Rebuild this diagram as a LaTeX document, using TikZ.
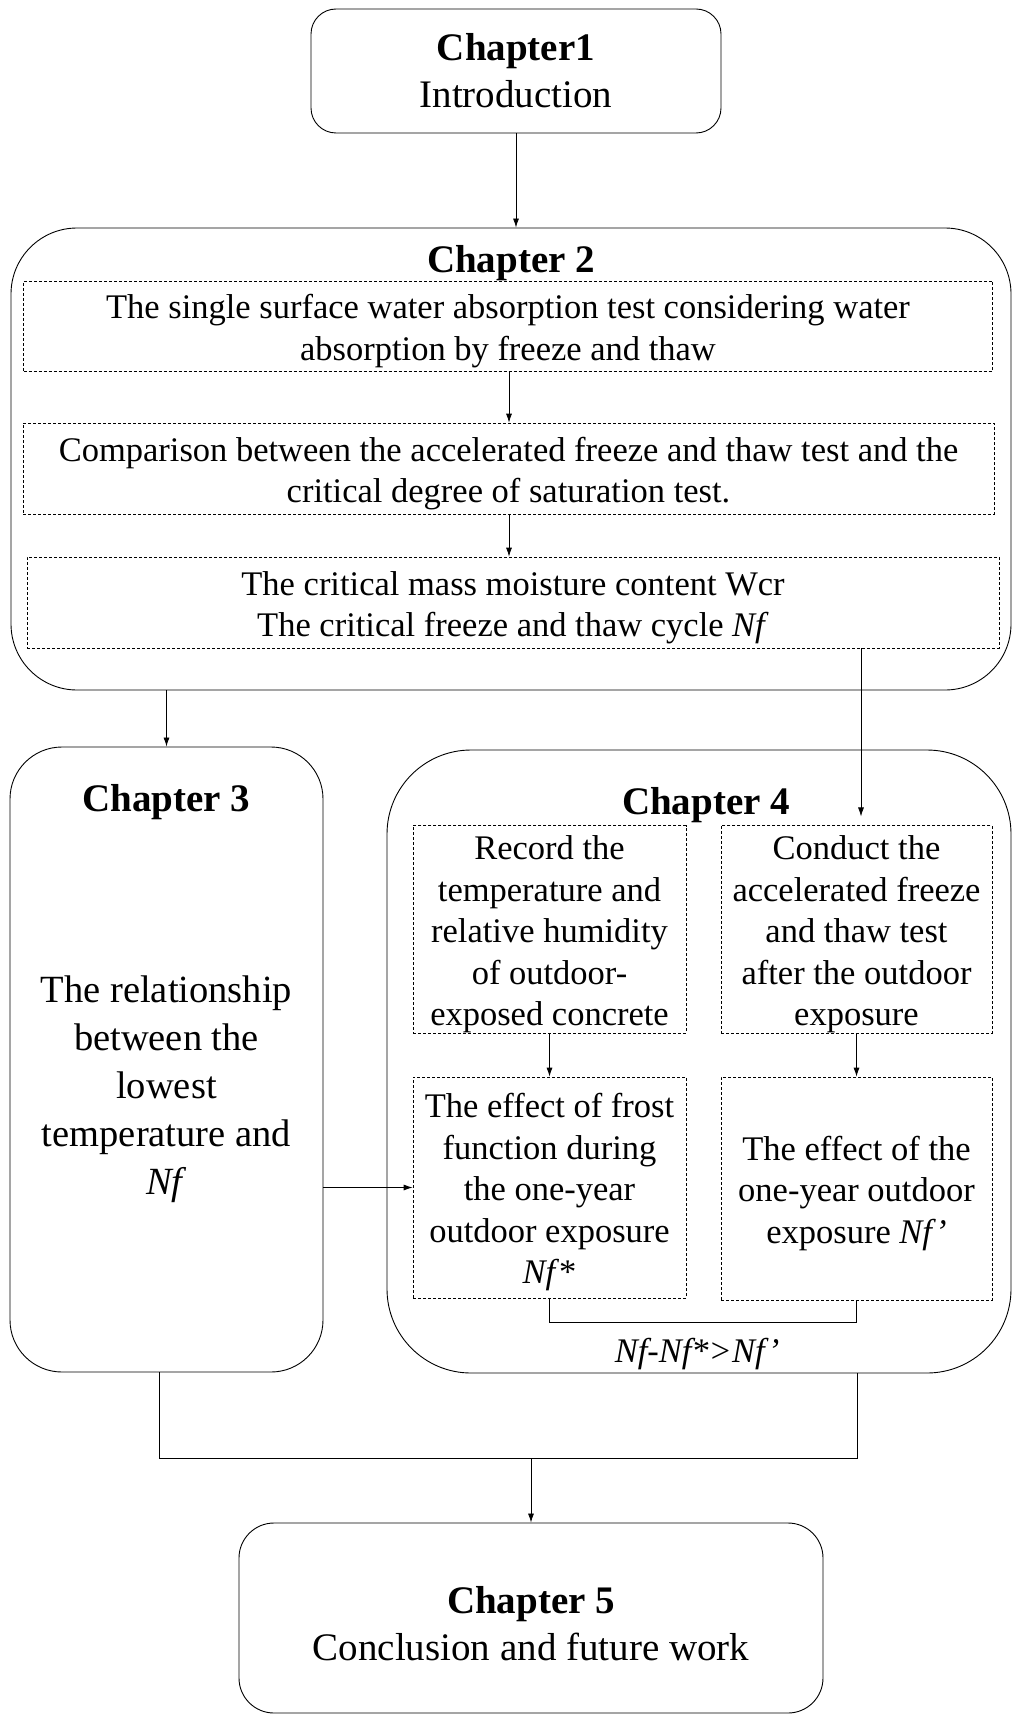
\documentclass[tikz,border=0pt]{standalone}
\usepackage{fontspec}
\setmainfont{Liberation Serif}
\usetikzlibrary{arrows.meta}
\newcommand\topstr{\rule{0pt}{34pt}}
\begin{document}
\begin{tikzpicture}[x=1pt,y=-1pt,
  chap/.style={draw, line width=0.9pt, inner sep=0pt, align=center},
  dbox/.style={draw, line width=0.7pt, dash pattern=on 3pt off 2pt, inner sep=0pt, align=center, font=\fontsize{34.5}{41.5}\selectfont},
  arr/.style={line width=0.8pt, -{Latex[length=9pt,width=6pt]}},
  ln/.style={line width=0.8pt},
  head/.style={font=\fontsize{39}{47}\selectfont\bfseries, inner sep=0pt},
  body/.style={align=center, inner sep=0pt},
]
\useasboundingbox (0,0) rectangle (1012,1715);

% Chapter 1
\node[chap, rounded corners=25pt, minimum width=410pt, minimum height=124pt, font=\fontsize{39}{47}\selectfont] (ch1) at (516,71) {\textbf{Chapter1}\\Introduction};

% Chapter 2
\node[chap, rounded corners=66pt, minimum width=1000pt, minimum height=462pt] (ch2) at (511,459) {};
\node[head] (ch2t) at (511,263) {Chapter 2};
\node[dbox, minimum width=969pt, minimum height=90pt] (b1) at (508,326) {\topstr The single surface water absorption test considering water\\absorption by freeze and thaw};
\node[dbox, minimum width=971pt, minimum height=91pt] (b2) at (508.5,468.5) {\topstr Comparison between the accelerated freeze and thaw test and the\\critical degree of saturation test.};
\node[dbox, minimum width=972pt, minimum height=91pt] (b3) at (513,602.5) {\topstr The critical mass moisture content Wcr\\The critical freeze and thaw cycle \textit{Nf}};

% Chapter 3
\node[chap, rounded corners=52pt, minimum width=313pt, minimum height=625pt] (ch3) at (166.5,1059.5) {};
\node[head] (ch3t) at (166.5,802) {Chapter 3};
\node[body, font=\fontsize{38.5}{48}\selectfont] (ch3b) at (166.5,1089) {The relationship\\between the\\lowest\\temperature and\\\textit{Nf}};

% Chapter 4
\node[chap, rounded corners=84pt, minimum width=624pt, minimum height=623pt] (ch4) at (699,1061.5) {};
\node[head] (ch4t) at (706,805) {Chapter 4};
\node[dbox, minimum width=273pt, minimum height=201pt] (l1) at (549.5,929.5) {\topstr Record the\\temperature and\\relative humidity\\of outdoor-\\exposed concrete};
\node[dbox, minimum width=271pt, minimum height=201pt] (r1) at (856.5,929.5) {\topstr Conduct the\\accelerated freeze\\and thaw test\\after the outdoor\\exposure};
\node[dbox, minimum width=273pt, minimum height=221pt] (l2) at (549.5,1187.5) {\topstr The effect of frost\\function during\\the one-year\\outdoor exposure\\\textit{Nf}*};
\node[dbox, minimum width=271pt, minimum height=223pt] (r2) at (856.5,1188.5) {\topstr The effect of the\\one-year outdoor\\exposure \textit{Nf’}};
\node[body, font=\fontsize{34.5}{40}\selectfont\itshape] (eq) at (697,1354) {Nf-Nf*>Nf’};

% Chapter 5
\node[chap, rounded corners=35pt, minimum width=584pt, minimum height=190pt] (ch5) at (531,1618) {};
\node[body, font=\fontsize{39}{47}\selectfont] (ch5t) at (531,1624) {\textbf{Chapter 5}\\Conclusion and future work};

% helper coordinates
\coordinate (xa) at (509,0);
\coordinate (xb) at (861,0);
\coordinate (xl) at (159,0);
\coordinate (xr) at (857,0);
\coordinate (j) at (531,1458);

% connectors
\draw[arr] (ch1.south) -- (ch1.south |- ch2.north);
\draw[arr] (b1.south -| xa) -- (b2.north -| xa);
\draw[arr] (b2.south -| xa) -- (b3.north -| xa);
\draw[arr] (ch3.north |- ch2.south) -- (ch3.north);
\draw[arr, shorten >=9pt] (b3.south -| xb) -- (r1.north -| xb);
\draw[arr] (l1.south) -- (l2.north);
\draw[arr] (r1.south) -- (r2.north);
\draw[arr] (ch3.east |- l2.west) -- (l2.west);
\draw[ln] (l2.south) -- ++(0,24) -| (r2.south);
\draw[ln] (ch3.south -| xl) -- (xl |- j) -- (xr |- j) -- (ch4.south -| xr);
\draw[arr] (j) -- (ch5.north);
\end{tikzpicture}
\end{document}
